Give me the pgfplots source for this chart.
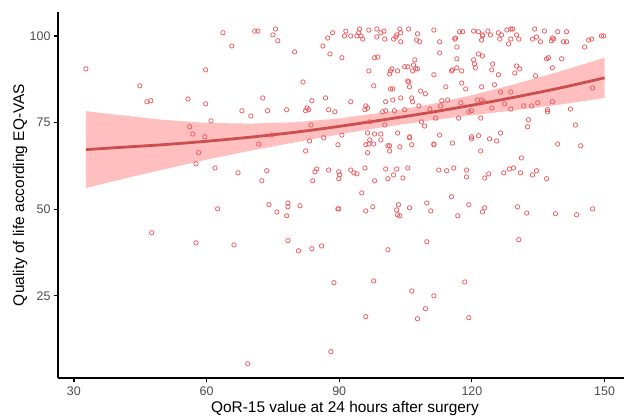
\documentclass[border=0pt]{standalone}
\usepackage{pgfplots}
\pgfplotsset{compat=1.18}
\usepackage{fontspec}
\setmainfont{Liberation Sans}
\definecolor{ptcol}{HTML}{EE5A5E}
\definecolor{bandcol}{HTML}{FF6060}
\definecolor{linecol}{HTML}{CB4F4F}
\definecolor{ticklab}{HTML}{4D4D4D}
\pgfplotstableread{
x y
63.7 100.9
65.7 97.1
32.7 90.5
59.8 90.2
44.9 85.6
46.5 81.0
47.4 81.3
55.8 81.8
59.8 80.4
68.0 78.4
70.0 76.9
61.0 75.5
56.2 73.8
56.9 71.7
59.6 70.9
58.2 66.3
57.6 63.1
61.9 61.9
67.1 60.5
62.5 50.1
47.6 43.2
57.6 40.3
66.2 39.7
69.3 5.4
70.9 101.4
71.6 101.4
75.6 102.0
75.0 100.3
76.1 98.6
79.9 95.4
86.3 97.1
87.4 99.4
88.5 100.9
87.9 94.8
90.6 93.7
91.5 101.4
91.2 100.0
92.6 100.0
94.0 100.0
94.6 102.0
94.4 100.9
94.9 100.0
95.3 99.1
96.7 101.7
98.5 102.0
98.5 99.7
99.4 100.9
100.1 101.4
100.3 99.1
102.3 99.1
102.8 99.7
103.0 100.3
103.7 102.0
103.9 100.9
103.9 98.3
105.7 102.0
107.7 100.6
107.5 98.8
108.2 98.3
111.4 101.7
112.7 98.3
112.7 95.1
98.0 93.7
98.7 93.9
107.1 93.1
106.8 91.6
104.8 91.1
105.5 91.1
96.7 89.9
101.9 90.5
101.6 89.9
101.4 89.0
103.2 89.9
106.6 89.9
107.3 90.5
107.7 90.5
111.4 88.8
81.8 86.7
97.8 85.6
105.5 87.0
105.7 86.7
101.6 84.7
102.1 84.7
105.9 85.3
108.4 84.1
109.5 83.3
72.7 82.1
83.8 81.3
86.9 82.1
92.6 81.0
100.5 81.0
102.1 81.5
103.9 82.1
106.4 82.1
106.6 81.0
113.2 81.3
73.8 78.4
78.1 78.7
82.7 79.2
82.4 78.4
83.1 78.7
87.6 78.7
89.0 78.1
96.0 79.8
96.4 79.2
95.8 78.7
99.8 78.1
100.5 78.4
102.5 78.4
104.8 78.7
108.0 79.8
110.5 78.9
112.9 79.8
111.8 76.3
83.6 74.3
96.9 75.2
100.3 74.3
108.6 75.2
109.3 74.0
74.7 71.4
90.6 71.4
96.4 72.0
98.0 71.7
99.4 71.7
103.2 72.0
105.9 70.9
112.7 71.4
71.8 68.8
83.3 69.7
86.5 70.6
82.4 66.8
89.7 68.6
96.9 70.0
99.4 70.0
96.0 68.6
96.7 68.8
97.8 68.8
96.4 66.3
101.0 68.3
101.4 68.3
101.4 66.8
103.7 68.0
105.9 70.6
106.4 68.6
111.4 68.8
111.4 68.6
73.6 61.1
72.5 58.2
84.9 61.6
84.5 60.8
87.6 61.3
89.9 60.8
90.1 59.9
89.9 58.8
84.0 58.2
92.6 61.3
93.3 60.5
94.0 60.2
95.8 61.9
98.0 58.2
100.5 61.6
101.0 58.8
102.3 59.9
103.0 61.6
104.4 59.0
105.5 61.9
112.5 61.3
95.1 54.7
74.1 51.3
75.9 49.2
78.4 51.8
78.4 50.7
78.1 48.1
81.1 51.0
89.7 50.1
89.9 50.1
96.0 49.5
97.6 50.7
103.4 51.3
103.0 49.8
103.2 48.4
103.7 48.1
105.9 50.4
109.8 51.8
110.7 49.5
78.4 40.9
80.8 38.0
83.8 38.6
86.0 39.4
101.0 38.3
109.8 40.6
88.8 28.8
97.8 29.3
106.4 26.4
111.4 25.0
109.5 21.3
96.0 19.0
107.7 18.4
88.1 8.9
118.4 29.0
119.3 18.7
115.6 69.1
119.9 70.9
119.9 70.3
121.5 71.2
124.0 70.3
125.6 69.7
122.0 66.8
139.4 68.8
144.6 68.3
131.2 64.8
114.3 61.1
115.9 61.9
118.8 61.3
118.8 59.3
122.9 59.0
123.8 60.2
127.2 60.5
128.5 61.6
129.4 61.9
131.0 60.5
133.7 59.9
134.6 61.1
136.9 58.8
115.4 53.6
119.3 51.3
116.8 48.1
122.9 50.4
122.4 49.2
130.3 50.7
132.4 48.9
138.9 48.7
143.7 48.4
147.3 50.1
130.6 41.2
117.2 101.2
117.9 101.2
120.4 101.4
121.5 101.2
122.4 100.3
122.2 98.8
122.4 100.0
123.6 101.4
124.2 100.3
126.0 100.9
126.7 100.3
126.3 99.1
127.9 101.7
128.8 102.0
129.2 102.0
128.8 99.1
130.1 100.3
130.6 99.1
128.3 97.7
134.2 102.0
134.6 99.7
133.7 99.1
135.5 98.3
136.4 101.4
138.2 99.4
138.0 98.6
138.5 99.1
139.4 101.2
141.4 101.2
140.7 98.3
141.4 98.3
145.5 96.8
146.4 98.8
147.1 99.1
149.3 100.0
149.8 100.0
116.1 99.1
116.3 99.4
116.6 96.8
121.5 94.8
122.4 94.2
120.4 93.1
120.6 91.9
116.6 93.4
120.8 90.8
116.6 90.8
115.4 89.9
115.6 90.2
117.7 89.9
124.7 91.9
124.5 90.2
126.0 88.8
130.1 91.3
130.8 90.5
129.7 89.3
136.9 93.4
137.3 93.7
138.2 90.8
140.3 93.4
134.4 88.5
117.7 86.4
114.1 85.3
118.6 84.7
122.2 85.3
125.1 85.9
126.5 83.8
128.8 83.8
147.3 85.0
114.5 81.5
121.3 81.5
122.2 81.5
122.7 81.0
117.5 80.7
127.4 80.4
131.7 79.8
133.5 79.8
134.9 80.7
138.2 81.0
124.5 79.2
128.8 78.9
119.3 78.1
119.9 78.4
137.1 78.7
137.1 78.1
142.3 78.9
117.0 76.3
122.0 76.3
132.8 75.8
132.6 73.8
143.4 74.3
126.5 72.0
}\pts
\pgfplotstableread{
x y
32.7 67.2
40 67.8
50 68.6
60 69.6
70 70.8
80 72.2
90 73.9
100 75.8
110 77.8
120 80.0
130 82.4
140 85.0
150 87.9
}\fit
\begin{document}
\begin{tikzpicture}
\useasboundingbox (-58bp,-40bp) rectangle (566bp,378bp);
\begin{axis}[
  at={(0,0)}, anchor=south west,
  scale only axis, width=566bp, height=366bp,
  xmin=26.4, xmax=154.4, ymin=1.3, ymax=106.9,
  axis lines=left,
  axis line style={-, line width=1.4bp, black},
  xtick={30,60,90,120,150}, ytick={25,50,75,100},
  tick align=outside, major tick length=4bp,
  tick style={line width=1.2bp, black},
  ticklabel style={font=\fontsize{12.5}{14}\selectfont, text=ticklab},
  /pgf/number format/assume math mode=true,
  xticklabel style={yshift=-1bp},
  xlabel={QoR-15 value at 24 hours after surgery},
  ylabel={Quality of life according EQ-VAS},
  label style={font=\fontsize{15.5}{18}\selectfont},
  xlabel style={at={(axis description cs:0.5,0)}, anchor=center, yshift=-31bp, xshift=4bp},
  ylabel style={at={(axis description cs:-0.0671,0.5)}, anchor=center, rotate=0},
]
\addplot[only marks, mark=o, mark size=2.2bp, ptcol, mark options={line width=0.75bp}] table[x=x,y=y] {\pts};
\addplot[draw=none, fill=bandcol, fill opacity=0.4] coordinates {
(32.7,78.3) (40,77.2) (50,75.8) (60,74.9) (70,74.7) (80,75.1) (90,76.2) (100,77.9) (110,80.1) (120,82.9) (130,86.2) (140,89.8) (150,93.7)
(150,82.1) (140,80.2) (130,78.6) (120,77.1) (110,75.5) (100,73.7) (90,71.6) (80,69.3) (70,66.9) (60,64.3) (50,61.4) (40,58.4) (32.7,56.1)
} -- cycle;
\addplot[linecol, line width=2.8bp, smooth] table[x=x,y=y] {\fit};
\end{axis}
\end{tikzpicture}
\end{document}
